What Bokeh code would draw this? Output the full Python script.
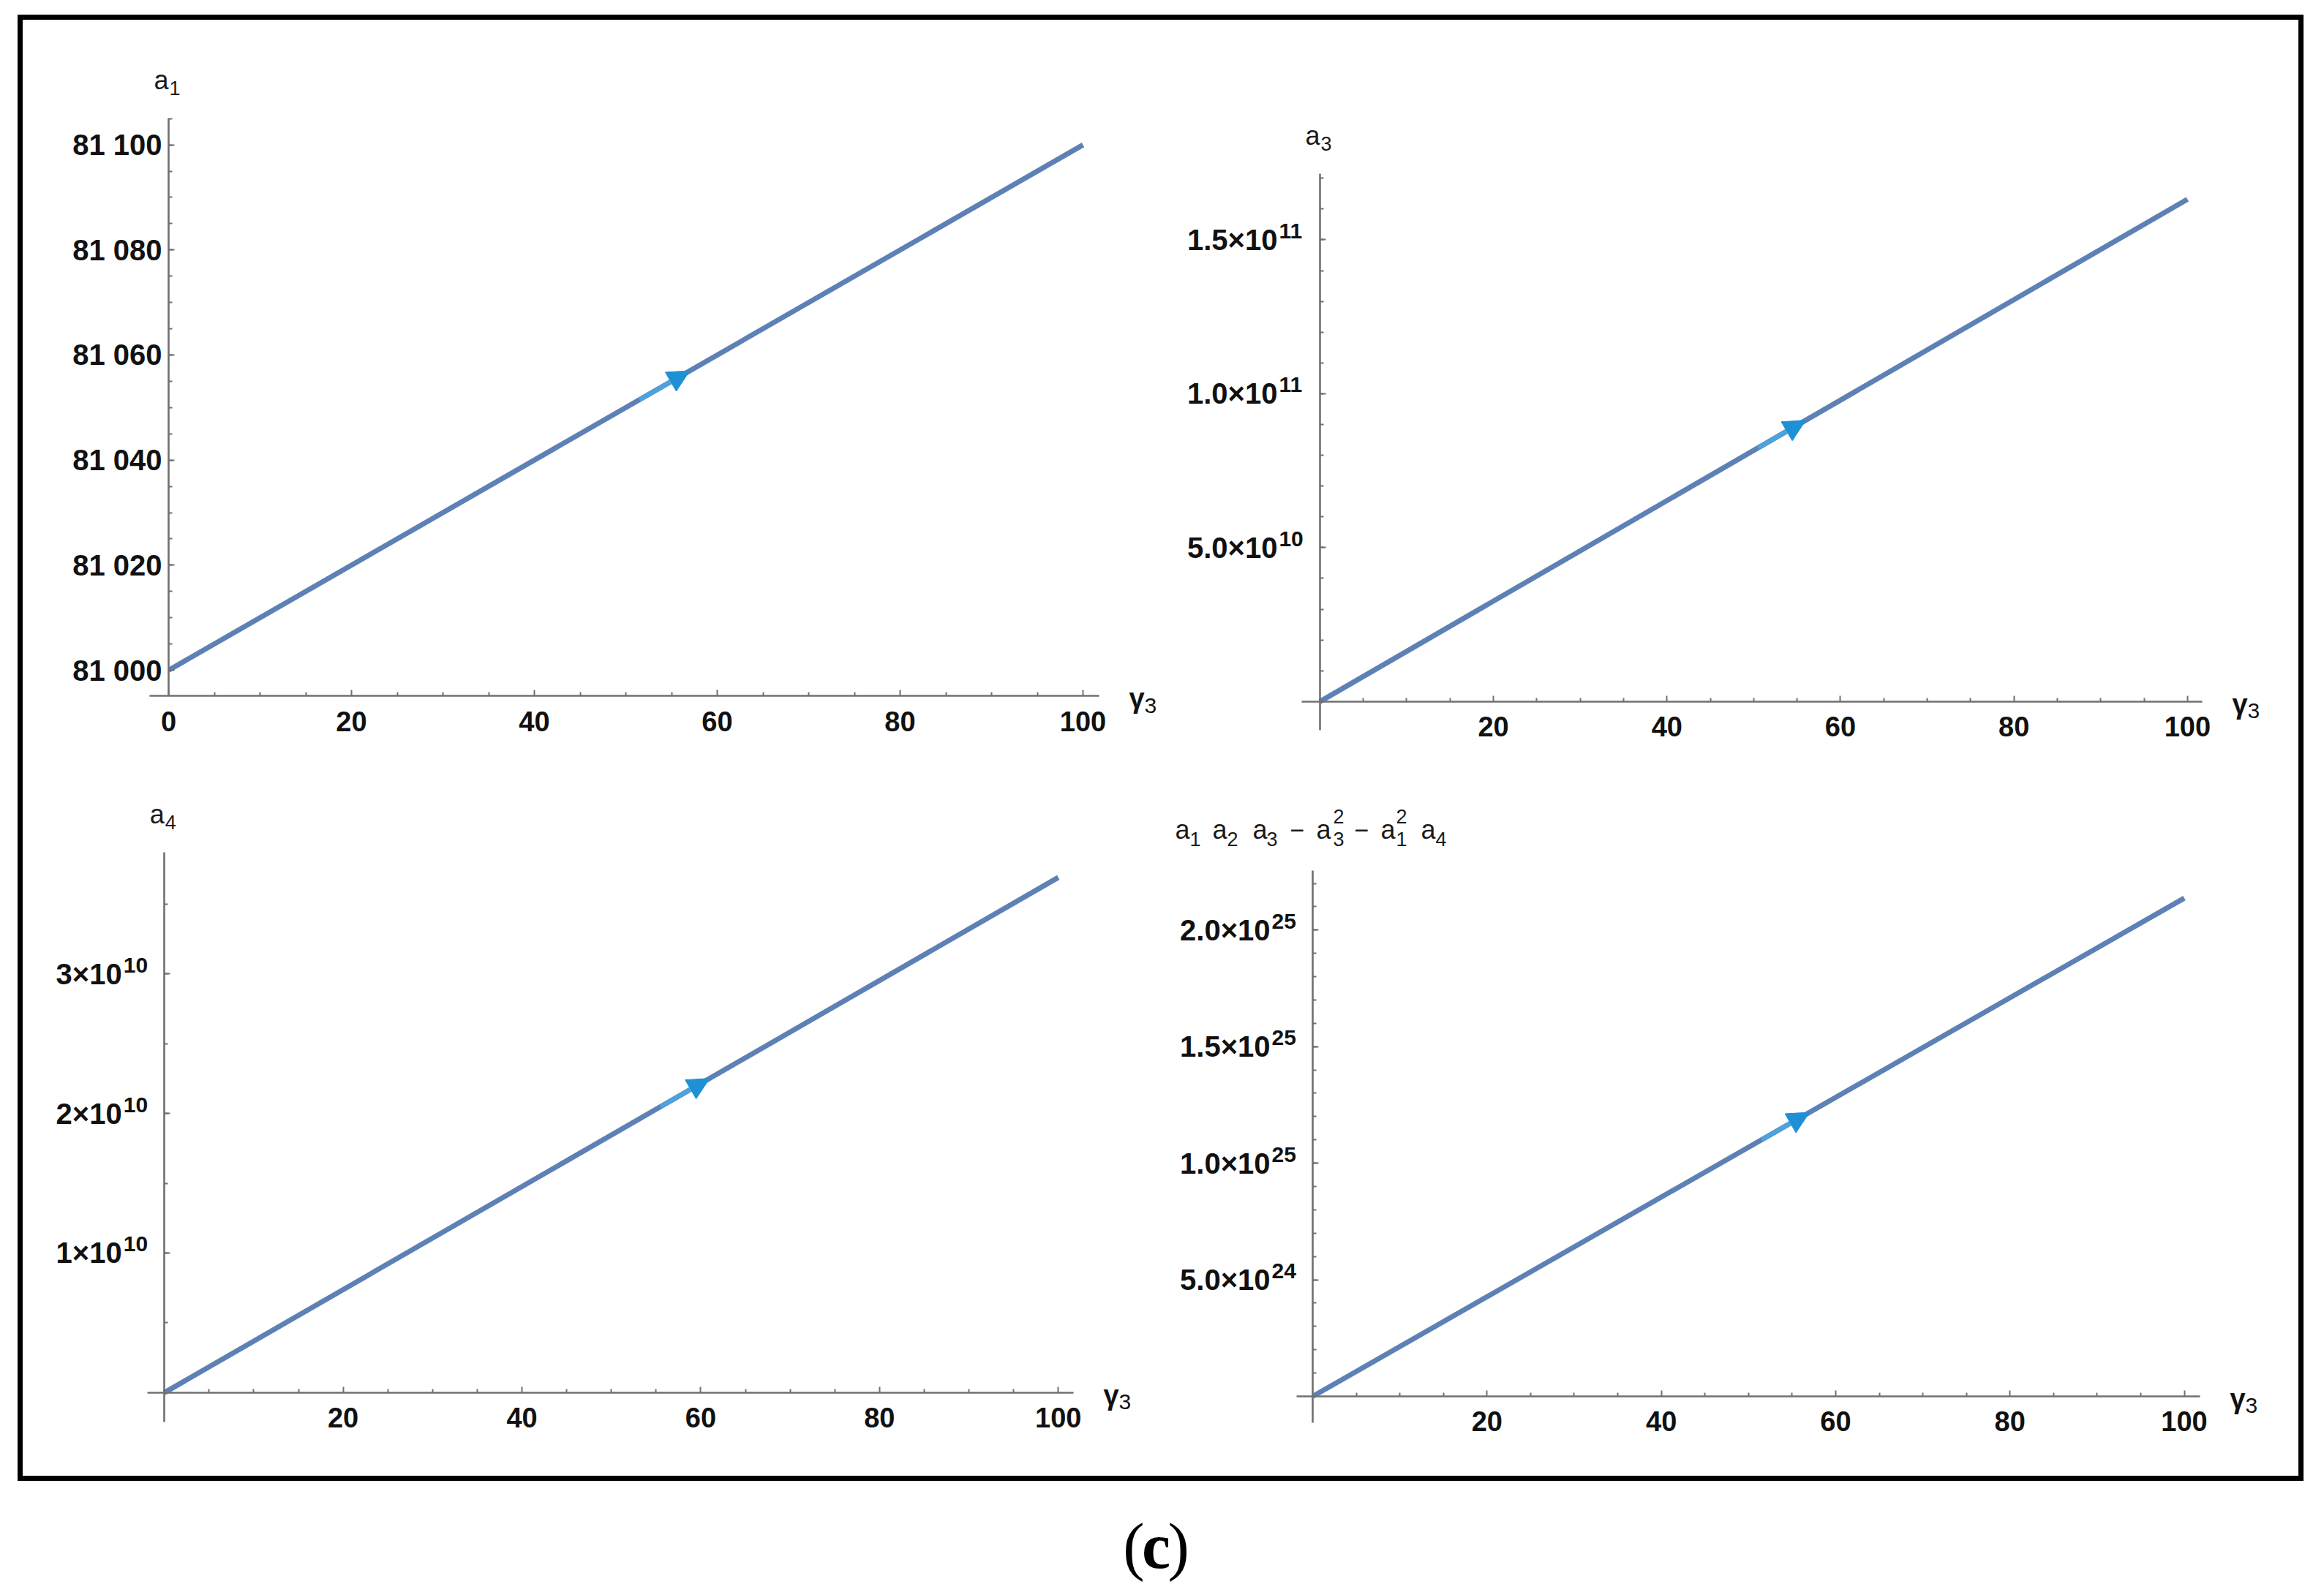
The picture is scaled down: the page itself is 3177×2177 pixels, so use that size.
import numpy as np
from bokeh.plotting import figure
from bokeh.layouts import column, row
from bokeh.models import Range1d, FixedTicker, Label, Arrow, NormalHead, Spacer
from bokeh.core.properties import value
from bokeh.embed import file_html
from bokeh.resources import INLINE

# ---------------- data ----------------
gamma3 = [0, 100]
a1 = [81000, 81100]
a3 = [0.0, 1.632e11]
a4 = [0.0, 3.69e10]
hurwitz = [0.0, 2.137e25]
arrow_tip = [57, 56, 61, 57]          # gamma3 where the direction arrow sits

x_ticks_first = [0, 20, 40, 60, 80, 100]
x_ticks_rest = [20, 40, 60, 80, 100]
x_minor = [5, 10, 15, 25, 30, 35, 45, 50, 55, 65, 70, 75, 85, 90, 95]

a1_ticks = [81000, 81020, 81040, 81060, 81080, 81100]
a1_tick_labels = ["81 000", "81 020", "81 040", "81 060", "81 080", "81 100"]
a3_ticks = [5.0e10, 1.0e11, 1.5e11]
a3_tick_mant = ["5.0×10", "1.0×10", "1.5×10"]
a3_tick_exp = ["10", "11", "11"]
a4_ticks = [1.0e10, 2.0e10, 3.0e10]
a4_tick_mant = ["1×10", "2×10", "3×10"]
a4_tick_exp = ["10", "10", "10"]
h_ticks = [5.0e24, 1.0e25, 1.5e25, 2.0e25]
h_tick_mant = ["5.0×10", "1.0×10", "1.5×10", "2.0×10"]
h_tick_exp = ["24", "25", "25", "25"]

a1_minor = [81000 + 5 * k for k in range(1, 22)]
a3_minor = [1.0e10 * k for k in range(1, 18)]
a4_minor = [0.5e10 * k for k in range(1, 8)]
h_minor = [1.0e24 * k for k in range(1, 23)]

# axis extents (plot ranges of the original panels)
p1_xlim, p1_ylim = (-2.08, 101.76), (80995.13, 81105.1)
p2_xlim, p2_ylim = (-2.1, 101.7), (-0.93e10, 1.715e11)
p3_xlim, p3_ylim = (-1.9, 101.7), (-0.21e10, 3.87e10)
p4_xlim, p4_ylim = (-1.85, 101.8), (-1.13e24, 2.255e25)

# ---------------- style ----------------
LINE = "#5E81B5"
ARROW_HEAD = "#1E90D6"
ARROW_TAIL = "#4DA3DD"
AXIS = "#707070"
TICK_FONT = "Liberation Sans"
LABEL_FONT = "Liberation Sans"
TICK_COLOR = "#111111"
BASE_FIX = 0.3     # the text box sits ~0.3 em low with an alphabetic baseline


def add_text(p, x, y, dx, dy, text, size, bold=False, color="#1a1a1a", font=LABEL_FONT, align="left"):
    p.add_layout(Label(x=x, y=y, x_offset=dx, y_offset=dy + BASE_FIX * size, text=text,
                       text_font=font, text_font_size=f"{size}px",
                       text_font_style="bold" if bold else "normal",
                       text_baseline="alphabetic", text_align=align,
                       text_color=color))


def extend(lim, p_lo, p_hi, c_lo, c_hi):
    """lim[0] sits at pixel p_lo, lim[1] at pixel p_hi; return the range covering
    the whole canvas from pixel c_lo to c_hi."""
    s = (lim[1] - lim[0]) / (p_hi - p_lo)
    return lim[0] + (c_lo - p_lo) * s, lim[0] + (c_hi - p_lo) * s


def panel(width, height, xr, yr, xlim, ylim, ys, xticks, yticks, ylabels, yexp, yminor,
          tip, x_axis_at):
    p = figure(width=width, height=height, title=None,
               x_range=Range1d(*xr), y_range=Range1d(*yr),
               output_backend="svg", toolbar_location=None,
               min_border_left=0, min_border_right=0,
               min_border_top=0, min_border_bottom=0)
    p.xgrid.visible = False
    p.ygrid.visible = False
    p.outline_line_color = None
    p.background_fill_color = "white"
    p.border_fill_color = "white"

    p.line(gamma3, ys, line_color=LINE, line_width=7)

    # direction arrow on the curve
    tip_y = float(np.interp(tip, gamma3, ys))
    start_x = tip - 5.5
    start_y = float(np.interp(start_x, gamma3, ys))
    p.add_layout(Arrow(x_start=start_x, y_start=start_y, x_end=tip, y_end=tip_y,
                       line_color=ARROW_TAIL, line_width=6,
                       end=NormalHead(size=30, fill_color=ARROW_HEAD,
                                      line_color=ARROW_HEAD, line_width=1)))

    xa = p.xaxis[0]
    ya = p.yaxis[0]
    ya.fixed_location = 0
    xa.fixed_location = x_axis_at
    xa.bounds = xlim
    ya.bounds = ylim

    for ax in (xa, ya):
        ax.axis_line_color = AXIS
        ax.axis_line_width = 2.6
        ax.major_tick_line_color = AXIS
        ax.minor_tick_line_color = AXIS
        ax.major_tick_line_width = 2
        ax.minor_tick_line_width = 2
        ax.major_tick_in = 8
        ax.major_tick_out = 0
        ax.minor_tick_in = 5
        ax.minor_tick_out = 0
        ax.major_label_text_font = TICK_FONT
        ax.major_label_text_font_style = "bold"
        ax.major_label_text_color = TICK_COLOR
    xa.major_label_text_font_size = "38px"
    ya.major_label_text_font_size = "40px"

    xa.ticker = FixedTicker(ticks=xticks, minor_ticks=x_minor)
    xa.major_label_standoff = 21
    ya.ticker = FixedTicker(ticks=yticks, minor_ticks=yminor)
    ya.major_label_overrides = {t: s for t, s in zip(yticks, ylabels)}
    if yexp is None:
        ya.major_label_standoff = 9
    else:
        ya.major_label_standoff = 58
        # powers of ten written as raised exponents next to the mantissa
        p.text(x=[0] * len(yticks), y=yticks, text=yexp,
               x_offset=-56, y_offset=-3 - BASE_FIX * 30,
               text_font=value(TICK_FONT), text_font_style="bold",
               text_font_size="30px", text_color=TICK_COLOR,
               text_align="left", text_baseline="alphabetic")
    return p


# canvases (page pixels): left column x 31..1592, right column 1592..3142,
# top row y 27..1075, bottom row 1075..2018
W_L, W_R, H_T, H_B = 1561, 1550, 1048, 943

p1 = panel(W_L, H_T,
           extend(p1_xlim, 204, 1502, 31, 1592), extend(p1_ylim, 951, 161, 1075, 27),
           p1_xlim, p1_ylim, a1, x_ticks_first, a1_ticks, a1_tick_labels, None, a1_minor,
           arrow_tip[0], p1_ylim[0])
p2 = panel(W_R, H_T,
           extend(p2_xlim, 1779, 3010, 1592, 3142), extend(p2_ylim, 998, 237, 1075, 27),
           p2_xlim, p2_ylim, a3, x_ticks_rest, a3_ticks, a3_tick_mant, a3_tick_exp, a3_minor,
           arrow_tip[1], 0)
p3 = panel(W_L, H_B,
           extend(p3_xlim, 201, 1467, 31, 1592), extend(p3_ylim, 1944, 1165, 2018, 1075),
           p3_xlim, p3_ylim, a4, x_ticks_rest, a4_ticks, a4_tick_mant, a4_tick_exp, a4_minor,
           arrow_tip[2], 0)
p4 = panel(W_R, H_B,
           extend(p4_xlim, 1772, 3007, 1592, 3142), extend(p4_ylim, 1945, 1190, 2018, 1075),
           p4_xlim, p4_ylim, hurwitz, x_ticks_rest, h_ticks, h_tick_mant, h_tick_exp, h_minor,
           arrow_tip[3], 0)

# vertical-axis names
for p, ylim, sub in ((p1, p1_ylim, "1"), (p2, p2_ylim, "3"), (p3, p3_ylim, "4")):
    add_text(p, 0, ylim[1], -20, 41, "a", 36)
    add_text(p, 0, ylim[1], 1, 33, sub, 27)

ytop4 = p4_ylim[1]
for dx in (-188, -137, -82, 5, 93, 148):
    add_text(p4, 0, ytop4, dx, 45, "a", 36)
for dx, s in ((-168, "1"), (-117, "2"), (-63, "3"), (28, "3"), (114, "1"), (168, "4")):
    add_text(p4, 0, ytop4, dx, 35, s, 27)
for dx in (28, 114):
    add_text(p4, 0, ytop4, dx, 66, "2", 27)
for dx in (-31, 57):
    add_text(p4, 0, ytop4, dx, 45, "−", 34)

# horizontal-axis names
for p, xlim, yax in ((p1, p1_xlim, p1_ylim[0]), (p2, p2_xlim, 0), (p3, p3_xlim, 0), (p4, p4_xlim, 0)):
    add_text(p, xlim[1], yax, 41, -15, "γ", 38, bold=True, color="#111111")
    add_text(p, xlim[1], yax, 62, -22, "3", 30, color="#111111")

panels = column(row(p1, p2), row(p3, p4),
                styles={"border": "7px solid black", "background-color": "white"})

# caption
CAP_W, CAP_H = 3153, 150
cap = figure(width=CAP_W, height=CAP_H, title=None,
             x_range=Range1d(0, CAP_W), y_range=Range1d(0, CAP_H),
             x_axis_location=None, y_axis_location=None,
             output_backend="svg", toolbar_location=None,
             min_border_left=0, min_border_right=0, min_border_top=0, min_border_bottom=0)
cap.grid.visible = False
cap.outline_line_color = None
cap.border_fill_color = "white"
cap.background_fill_color = "white"
SERIF = "Liberation Serif"
base_y = 35 + BASE_FIX * 88
cap.add_layout(Label(x=1564, y=base_y, text="(", text_font=SERIF, text_font_size="88px",
                     text_align="right", text_baseline="alphabetic", text_color="black"))
cap.add_layout(Label(x=1580, y=base_y, text="c", text_font=SERIF, text_font_size="88px",
                     text_font_style="bold", text_align="center",
                     text_baseline="alphabetic", text_color="black"))
cap.add_layout(Label(x=1596, y=base_y, text=")", text_font=SERIF, text_font_size="88px",
                     text_align="left", text_baseline="alphabetic", text_color="black"))

layout = column(Spacer(height=20), row(Spacer(width=24), panels), cap)
open("out.html", "w").write(file_html(layout, INLINE))
